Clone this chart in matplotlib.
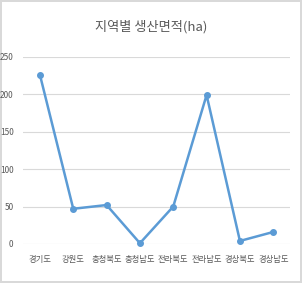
import matplotlib.pyplot as plt

plt.rcParams['font.family'] = ['Noto Sans CJK KR', 'DejaVu Sans']

regions = ['경기도', '강원도', '충청북도', '충청남도', '전라북도', '전라남도', '경상북도', '경상남도']
area = [226, 47, 52, 1, 50, 199, 4, 16]
yticks = [0, 50, 100, 150, 200, 250]

fig = plt.figure(figsize=(3.02, 2.83), dpi=100)
fig.patch.set_edgecolor('#d9d9d9')
fig.patch.set_linewidth(1.5)
ax = fig.add_axes([0.077, 0.138, 0.883, 0.661])

x = list(range(len(regions)))
ax.plot(x, area, color='#5b9bd5', lw=1.8, marker='o', ms=4, clip_on=False, zorder=3)

ax.set_xlim(-0.5, len(regions) - 0.5)
ax.set_ylim(0, 250)
ax.set_yticks(yticks)
ax.set_xticks(x)
ax.set_xticklabels(regions)
ax.grid(axis='y', color='#d9d9d9', lw=0.8)
ax.set_axisbelow(True)
for s in ax.spines.values():
    s.set_visible(False)
ax.tick_params(length=0, colors='#595959', labelsize=6)
ax.tick_params(axis='x', pad=8)
ax.tick_params(axis='y', pad=7)

fig.text(0.5, 0.905, '지역별 생산면적(ha)', ha='center', va='center', fontsize=9.5, color='#595959')

fig.savefig('out.png', dpi=100)
